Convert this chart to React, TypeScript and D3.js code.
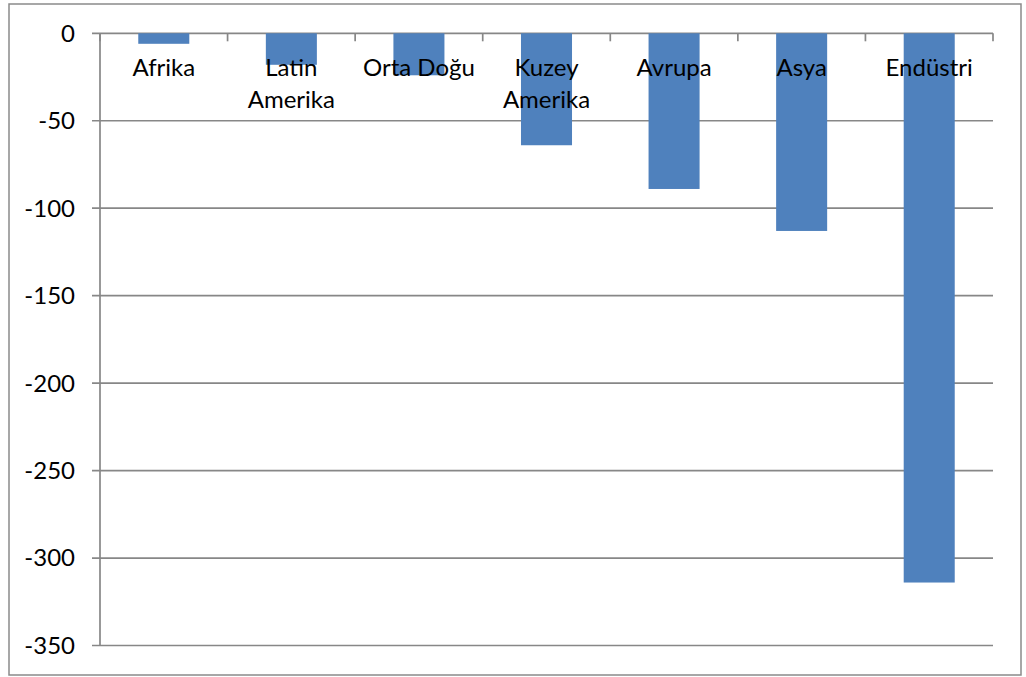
import React from "react";
import * as d3 from "d3";

// Regional values (negative balance) per category
const categories: string[][] = [
  ["Afrika"],
  ["Latin", "Amerika"],
  ["Orta Doğu"],
  ["Kuzey", "Amerika"],
  ["Avrupa"],
  ["Asya"],
  ["Endüstri"],
];
const values: number[] = [-6, -18, -24, -64, -89, -113, -314];
const yTicks: number[] = [0, -50, -100, -150, -200, -250, -300, -350];

const W = 1026;
const H = 677;
const plot = { left: 100, right: 993, top: 33.3, bottom: 645.5 };
const FONT = "Lato, 'Open Sans', sans-serif";
const GRID = "#878787";

export default function App() {
  const keys = categories.map((c) => c.join(" "));
  const x = d3
    .scaleBand<string>()
    .domain(keys)
    .range([plot.left, plot.right])
    .paddingInner(0.6)
    .paddingOuter(0.3);
  const y = d3.scaleLinear().domain([0, -350]).range([plot.top, plot.bottom]);
  const catEdges = d3.range(keys.length + 1).map((i) => plot.left + i * ((plot.right - plot.left) / keys.length));

  return (
    <svg
      width={W}
      height={H}
      style={{ position: "absolute", left: 0, top: 0, background: "#fff" }}
      fontFamily={FONT}
    >
      <rect x={9} y={4} width={1012} height={671} fill="#fff" stroke="#8a8a8a" strokeWidth={1.5} />

      {/* horizontal gridlines with left tick marks */}
      {yTicks.map((t) => (
        <g key={t}>
          <line x1={plot.left - 8} x2={plot.right} y1={y(t)} y2={y(t)} stroke={GRID} strokeWidth={1.7} />
          <text x={75} y={y(t)} dy="0.35em" textAnchor="end" fontSize={24} fill="#000">
            {t}
          </text>
        </g>
      ))}

      {/* vertical axis */}
      <line x1={plot.left} x2={plot.left} y1={plot.top} y2={plot.bottom} stroke={GRID} strokeWidth={1.7} />

      {/* category tick marks hanging below the zero line */}
      {catEdges.map((cx, i) => (
        <line key={i} x1={cx} x2={cx} y1={y(0)} y2={y(0) + 8} stroke={GRID} strokeWidth={1.7} />
      ))}

      {/* bars */}
      {values.map((v, i) => (
        <rect
          key={keys[i]}
          x={x(keys[i])}
          width={x.bandwidth()}
          y={y(0)}
          height={y(v) - y(0)}
          fill="#4F81BD"
        />
      ))}

      {/* category labels */}
      {categories.map((lines, i) => {
        const cx = (x(keys[i]) as number) + x.bandwidth() / 2;
        return (
          <text key={keys[i]} x={cx} y={76} textAnchor="middle" fontSize={24} fill="#000">
            {lines.map((ln, j) => (
              <tspan key={j} x={cx} dy={j === 0 ? 0 : 31.7}>
                {ln}
              </tspan>
            ))}
          </text>
        );
      })}
    </svg>
  );
}
